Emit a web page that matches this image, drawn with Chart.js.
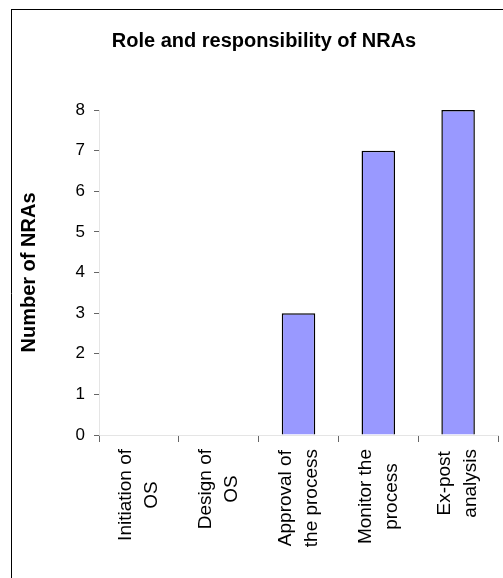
<!DOCTYPE html>
<html>
<head>
<meta charset="utf-8">
<script src="https://cdn.jsdelivr.net/npm/chart.js@4/dist/chart.umd.min.js"></script>
<style>
    html, body { margin: 0; padding: 0; overflow: hidden; background: #fff; }
    canvas { display: block; }
</style>
</head>
<body>
<canvas id="myChart" width="503" height="578"></canvas>
<script>
const categories = [
    ['Initiation of', 'OS'],
    ['Design of', 'OS'],
    ['Approval of', 'the process'],
    ['Monitor the', 'process'],
    ['Ex-post', 'analysis']
]
const nraCounts = [0, 0, 3, 7, 8]
const yMin = 0
const yMax = 8
const yStep = 1

// frame (left + top only) and the centred rotated category labels
const excelLook = {
    id: 'excelLook',
    afterDraw(chart) {
        const ctx = chart.ctx
        const xs = chart.scales.x
        ctx.save()
        ctx.lineWidth = 1
        ctx.strokeStyle = '#000'
        ctx.beginPath()
        ctx.moveTo(11.5, chart.height)
        ctx.lineTo(11.5, 9)
        ctx.stroke()
        ctx.beginPath()
        ctx.moveTo(11, 9.5)
        ctx.lineTo(chart.width, 9.5)
        ctx.stroke()
        ctx.beginPath()

        ctx.font = '19px Arial, "Liberation Sans"'
        ctx.fillStyle = '#000'
        ctx.textAlign = 'center'
        ctx.textBaseline = 'middle'
        categories.forEach((lines, i) => {
            const cx = xs.getPixelForValue(i)
            const maxW = Math.max(...lines.map(l => ctx.measureText(l).width))
            ctx.save()
            ctx.translate(cx, xs.top + 14 + maxW / 2)
            ctx.rotate(-Math.PI / 2)
            lines.forEach((l, j) => {
                ctx.fillText(l, 0, (j - (lines.length - 1) / 2) * 26)
            })
            ctx.restore()
        })
        ctx.restore()
    }
}

const ctx = document.getElementById('myChart').getContext('2d')
const myChart = new Chart(ctx, {
    type: 'bar',
    data: {
        labels: categories,
        datasets: [{
            label: 'Number of NRAs',
            data: nraCounts,
            backgroundColor: '#9999ff',
            borderColor: '#000',
            borderWidth: 1.5,
            categoryPercentage: 1,
            barPercentage: 0.42
        }]
    },
    options: {
        responsive: false,
        animation: false,
        layout: {
            padding: { left: 30, right: 5, top: 0, bottom: 0 }
        },
        plugins: {
            legend: { display: false },
            tooltip: { enabled: false },
            title: {
                display: true,
                text: 'Role and responsibility of NRAs',
                color: '#000',
                font: { family: 'Arial, "Liberation Sans"', size: 20, weight: 'bold' },
                padding: { top: 29, bottom: 57 }
            }
        },
        scales: {
            x: {
                grid: {
                    offset: true,
                    drawOnChartArea: false,
                    tickLength: 7,
                    color: '#666'
                },
                ticks: { display: false },
                afterFit(scale) {
                    scale.height = 143
                }
            },
            y: {
                min: yMin,
                max: yMax,
                grid: {
                    drawOnChartArea: false,
                    tickLength: 5,
                    color: '#666'
                },
                ticks: {
                    stepSize: yStep,
                    color: '#000',
                    padding: 9,
                    font: { family: 'Arial, "Liberation Sans"', size: 17 }
                },
                title: {
                    display: true,
                    text: 'Number of NRAs',
                    color: '#000',
                    padding: { top: -13, bottom: 0 },
                    font: { family: 'Arial, "Liberation Sans"', size: 20, weight: 'bold' }
                },
                afterFit(scale) {
                    scale.width = 69
                }
            }
        }
    },
    plugins: [excelLook]
})
</script>
</body>
</html>
